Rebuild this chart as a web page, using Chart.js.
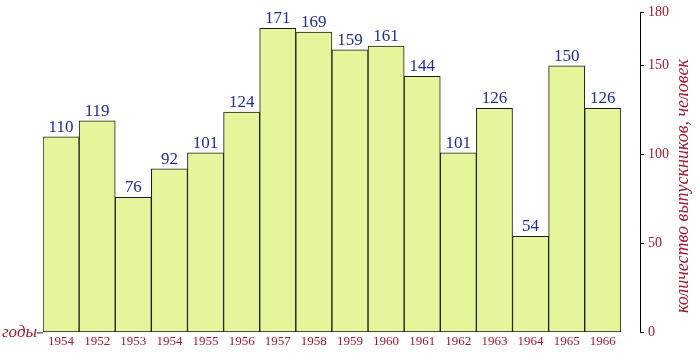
<!DOCTYPE html>
<html>
<head>
<meta charset="utf-8">
<script src="https://cdn.jsdelivr.net/npm/chart.js@4/dist/chart.umd.min.js"></script>
<style>
  html, body { margin: 0; padding: 0; background: #fff; }
  #wrap { width: 700px; height: 361px; }
</style>
</head>
<body>
<div id="wrap"><canvas id="chart" width="700" height="361"></canvas></div>
<script>
// Chart data
const years = ['1954', '1952', '1953', '1954', '1955', '1956', '1957', '1958',
  '1959', '1960', '1961', '1962', '1963', '1964', '1965', '1966'];
const graduates = [110, 119, 76, 92, 101, 124, 171, 169, 159, 161, 144, 101, 126, 54, 150, 126];
const yTicks = [0, 50, 100, 150, 180];

const xTitle = 'годы';
const yTitle = 'количество выпускников, человек';

const RED = '#9e1a2e';
const BLUE = '#1f2e8f';
const SERIF = '"Liberation Serif", "DejaVu Serif", serif';

/**
 * Draws value labels above bars, the axis captions and the small baseline stub
 */
const decorations = {
  id: 'decorations',
  afterDatasetsDraw(chart) {
    const ctx = chart.ctx;
    const meta = chart.getDatasetMeta(0);
    const area = chart.chartArea;

    ctx.save();
    // values above each bar
    ctx.font = '17px ' + SERIF;
    ctx.fillStyle = BLUE;
    ctx.textAlign = 'center';
    ctx.textBaseline = 'alphabetic';
    meta.data.forEach((bar, i) => {
      ctx.fillText(String(graduates[i]), bar.x, bar.y - 5);
    });

    // stub of the baseline left of the first bar
    const first = meta.data[0];
    const left = first.x - first.width / 2;
    ctx.strokeStyle = '#222';
    ctx.lineWidth = 1;
    ctx.beginPath();
    ctx.moveTo(left - 6, area.bottom + 0.5);
    ctx.lineTo(left, area.bottom + 0.5);
    ctx.stroke();

    // x caption
    ctx.font = 'italic 17px ' + SERIF;
    ctx.fillStyle = RED;
    ctx.textAlign = 'right';
    ctx.fillText(xTitle, left - 6, area.bottom + 5);

    // y caption, reading bottom to top
    ctx.font = 'italic 18px ' + SERIF;
    ctx.textAlign = 'center';
    ctx.textBaseline = 'middle';
    ctx.translate(683, 186);
    ctx.rotate(-Math.PI / 2);
    ctx.fillText(yTitle, 0, 0);
    ctx.restore();
  }
};

const ctx = document.getElementById('chart').getContext('2d');
const chart = new Chart(ctx, {
  type: 'bar',
  data: {
    datasets: [{
      data: graduates.map((v, i) => ({ x: i, y: v })),
      backgroundColor: '#e5f59b',
      borderColor: '#1a1a1a',
      borderWidth: 1,
      borderSkipped: false,
      barPercentage: 1,
      categoryPercentage: 1
    }]
  },
  options: {
    responsive: false,
    animation: false,
    layout: {
      padding: { left: 43, right: 27, top: 8, bottom: 11 }
    },
    plugins: {
      legend: { display: false },
      tooltip: { enabled: false },
      title: { display: false }
    },
    scales: {
      x: {
        type: 'linear',
        offset: false,
        min: -0.5,
        max: 16.03,
        grid: { display: false, drawTicks: false },
        border: { display: false },
        afterBuildTicks: (scale) => {
          scale.ticks = years.map((_, i) => ({ value: i }));
        },
        ticks: {
          autoSkip: false,
          maxRotation: 0,
          padding: 1,
          color: RED,
          font: { family: SERIF, size: 13 },
          callback: (v) => years[v]
        }
      },
      y: {
        position: 'right',
        min: 0,
        max: 180,
        afterBuildTicks: (scale) => {
          scale.ticks = yTicks.map(v => ({ value: v }));
        },
        grid: {
          drawOnChartArea: false,
          drawTicks: true,
          tickLength: 4,
          color: '#000'
        },
        border: { display: true, color: '#000', width: 1 },
        ticks: {
          padding: 4,
          color: RED,
          font: { family: SERIF, size: 14 }
        }
      }
    }
  },
  plugins: [decorations]
});
</script>
</body>
</html>
